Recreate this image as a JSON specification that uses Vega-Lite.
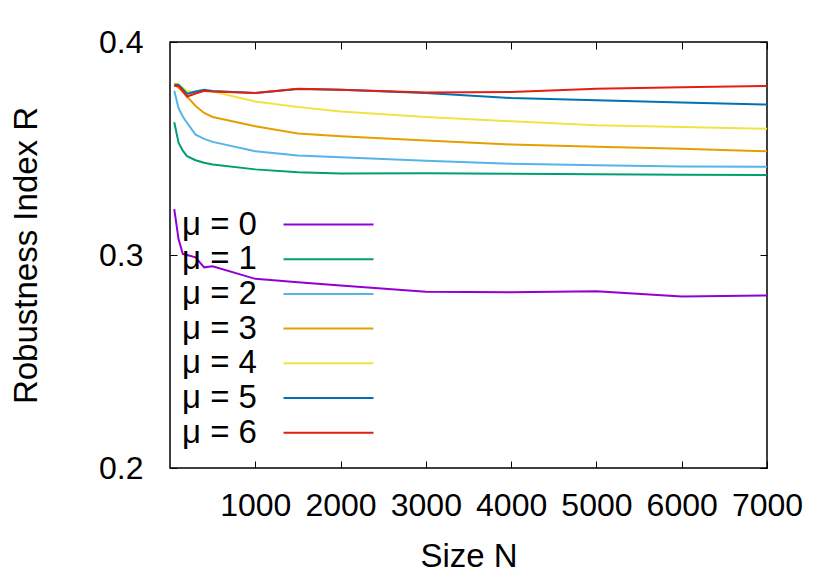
{
  "$schema": "https://vega.github.io/schema/vega-lite/v6.json",
  "width": 597,
  "height": 426,
  "autosize": {"type": "none"},
  "padding": {"left": 170, "top": 42, "right": 63, "bottom": 113},
  "background": "white",
  "config": {
    "font": "Liberation Sans",
    "view": {"stroke": "black", "strokeWidth": 1.5},
    "axis": {"grid": false, "domain": false, "tickColor": "black", "labelColor": "black", "titleColor": "black", "titleFontWeight": "normal"}
  },
  "data": {"values": [
    {"N": 50, "mu": 0, "R": 0.3215}, {"N": 100, "mu": 0, "R": 0.3075}, {"N": 150, "mu": 0, "R": 0.3005}, {"N": 200, "mu": 0, "R": 0.3000}, {"N": 300, "mu": 0, "R": 0.2989}, {"N": 400, "mu": 0, "R": 0.2942}, {"N": 500, "mu": 0, "R": 0.2947}, {"N": 1000, "mu": 0, "R": 0.2888}, {"N": 1500, "mu": 0, "R": 0.2872}, {"N": 2000, "mu": 0, "R": 0.2857}, {"N": 3000, "mu": 0, "R": 0.2827}, {"N": 4000, "mu": 0, "R": 0.2825}, {"N": 5000, "mu": 0, "R": 0.2830}, {"N": 6000, "mu": 0, "R": 0.2805}, {"N": 7000, "mu": 0, "R": 0.2810},
    {"N": 50, "mu": 1, "R": 0.3623}, {"N": 100, "mu": 1, "R": 0.3527}, {"N": 150, "mu": 1, "R": 0.3490}, {"N": 200, "mu": 1, "R": 0.3464}, {"N": 300, "mu": 1, "R": 0.3445}, {"N": 400, "mu": 1, "R": 0.3433}, {"N": 500, "mu": 1, "R": 0.3425}, {"N": 1000, "mu": 1, "R": 0.3402}, {"N": 1500, "mu": 1, "R": 0.3389}, {"N": 2000, "mu": 1, "R": 0.3383}, {"N": 3000, "mu": 1, "R": 0.3384}, {"N": 4000, "mu": 1, "R": 0.3382}, {"N": 5000, "mu": 1, "R": 0.3379}, {"N": 6000, "mu": 1, "R": 0.3377}, {"N": 7000, "mu": 1, "R": 0.3375},
    {"N": 50, "mu": 2, "R": 0.3771}, {"N": 100, "mu": 2, "R": 0.3690}, {"N": 150, "mu": 2, "R": 0.3650}, {"N": 200, "mu": 2, "R": 0.3620}, {"N": 300, "mu": 2, "R": 0.3565}, {"N": 400, "mu": 2, "R": 0.3545}, {"N": 500, "mu": 2, "R": 0.3531}, {"N": 1000, "mu": 2, "R": 0.3487}, {"N": 1500, "mu": 2, "R": 0.3467}, {"N": 2000, "mu": 2, "R": 0.3459}, {"N": 3000, "mu": 2, "R": 0.3443}, {"N": 4000, "mu": 2, "R": 0.3428}, {"N": 5000, "mu": 2, "R": 0.3421}, {"N": 6000, "mu": 2, "R": 0.3416}, {"N": 7000, "mu": 2, "R": 0.3414},
    {"N": 50, "mu": 3, "R": 0.3799}, {"N": 100, "mu": 3, "R": 0.3785}, {"N": 150, "mu": 3, "R": 0.3765}, {"N": 200, "mu": 3, "R": 0.3744}, {"N": 300, "mu": 3, "R": 0.3700}, {"N": 400, "mu": 3, "R": 0.3667}, {"N": 500, "mu": 3, "R": 0.3648}, {"N": 1000, "mu": 3, "R": 0.3604}, {"N": 1500, "mu": 3, "R": 0.3570}, {"N": 2000, "mu": 3, "R": 0.3557}, {"N": 3000, "mu": 3, "R": 0.3537}, {"N": 4000, "mu": 3, "R": 0.3519}, {"N": 5000, "mu": 3, "R": 0.3508}, {"N": 6000, "mu": 3, "R": 0.3499}, {"N": 7000, "mu": 3, "R": 0.3487},
    {"N": 50, "mu": 4, "R": 0.3807}, {"N": 100, "mu": 4, "R": 0.3800}, {"N": 150, "mu": 4, "R": 0.3785}, {"N": 200, "mu": 4, "R": 0.3770}, {"N": 300, "mu": 4, "R": 0.3765}, {"N": 400, "mu": 4, "R": 0.3770}, {"N": 500, "mu": 4, "R": 0.3768}, {"N": 1000, "mu": 4, "R": 0.3721}, {"N": 1500, "mu": 4, "R": 0.3695}, {"N": 2000, "mu": 4, "R": 0.3674}, {"N": 3000, "mu": 4, "R": 0.3648}, {"N": 4000, "mu": 4, "R": 0.3628}, {"N": 5000, "mu": 4, "R": 0.3609}, {"N": 6000, "mu": 4, "R": 0.3601}, {"N": 7000, "mu": 4, "R": 0.3593},
    {"N": 50, "mu": 5, "R": 0.3799}, {"N": 100, "mu": 5, "R": 0.3799}, {"N": 150, "mu": 5, "R": 0.3778}, {"N": 200, "mu": 5, "R": 0.3757}, {"N": 300, "mu": 5, "R": 0.3768}, {"N": 400, "mu": 5, "R": 0.3776}, {"N": 500, "mu": 5, "R": 0.3770}, {"N": 1000, "mu": 5, "R": 0.3760}, {"N": 1500, "mu": 5, "R": 0.3779}, {"N": 2000, "mu": 5, "R": 0.3776}, {"N": 3000, "mu": 5, "R": 0.3760}, {"N": 4000, "mu": 5, "R": 0.3737}, {"N": 5000, "mu": 5, "R": 0.3726}, {"N": 6000, "mu": 5, "R": 0.3716}, {"N": 7000, "mu": 5, "R": 0.3706},
    {"N": 50, "mu": 6, "R": 0.3794}, {"N": 100, "mu": 6, "R": 0.3794}, {"N": 150, "mu": 6, "R": 0.3769}, {"N": 200, "mu": 6, "R": 0.3744}, {"N": 300, "mu": 6, "R": 0.3758}, {"N": 400, "mu": 6, "R": 0.3771}, {"N": 500, "mu": 6, "R": 0.3768}, {"N": 1000, "mu": 6, "R": 0.3760}, {"N": 1500, "mu": 6, "R": 0.3780}, {"N": 2000, "mu": 6, "R": 0.3776}, {"N": 3000, "mu": 6, "R": 0.3763}, {"N": 4000, "mu": 6, "R": 0.3765}, {"N": 5000, "mu": 6, "R": 0.3780}, {"N": 6000, "mu": 6, "R": 0.3788}, {"N": 7000, "mu": 6, "R": 0.3794}
  ]},
  "layer": [
    {
      "mark": {"type": "line", "strokeWidth": 2, "clip": true},
      "encoding": {
        "x": {"field": "N", "type": "quantitative", "scale": {"domain": [0, 7000], "nice": false, "zero": false},
          "axis": {"values": [1000, 2000, 3000, 4000, 5000, 6000, 7000], "format": "d", "title": "Size N", "titleFontSize": 33, "labelFontSize": 32, "tickSize": -7, "labelPadding": 29, "titlePadding": 19, "labelFlush": false}},
        "y": {"field": "R", "type": "quantitative", "scale": {"domain": [0.2, 0.4], "nice": false, "zero": false},
          "axis": {"values": [0.2, 0.3, 0.4], "format": ".1f", "title": "Robustness Index R", "titleFontSize": 33, "labelFontSize": 32, "tickSize": -7, "labelPadding": 34, "titlePadding": 55, "labelFlush": false}},
        "color": {"field": "mu", "type": "nominal",
          "scale": {"domain": [0, 1, 2, 3, 4, 5, 6], "range": ["#9400d3", "#009e73", "#56b4e9", "#e69f00", "#f0e442", "#0072b2", "#e51e10"]},
          "legend": {"title": null, "orient": "none", "legendX": 142, "legendY": 166, "labelExpr": "'μ = ' + datum.label", "labelFontSize": 33, "labelOffset": -163, "symbolType": "M-10,0H10", "symbolSize": 81, "symbolStrokeWidth": 2, "rowPadding": 0.7, "padding": 0, "labelLimit": 300}}
      }
    },
    {
      "mark": {"type": "rule", "opacity": 0},
      "encoding": {
        "x": {"field": "N", "type": "quantitative", "axis": {"orient": "top", "values": [1000, 2000, 3000, 4000, 5000, 6000, 7000], "labels": false, "title": null, "tickSize": -7}},
        "y": {"field": "R", "type": "quantitative", "axis": {"orient": "right", "values": [0.2, 0.3, 0.4], "labels": false, "title": null, "tickSize": -7}}
      }
    }
  ],
  "resolve": {"axis": {"x": "independent", "y": "independent"}}
}
